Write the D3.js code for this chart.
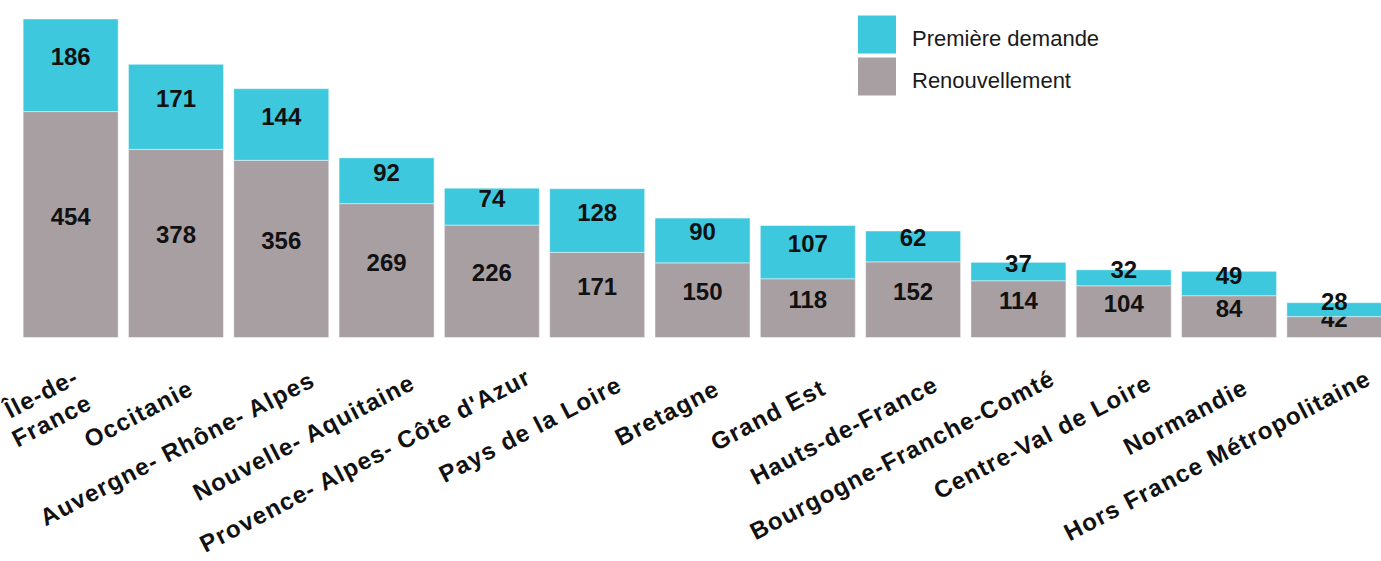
<!DOCTYPE html>
<html>
<head>
<meta charset="utf-8">
<script src="https://cdn.jsdelivr.net/npm/d3@7"></script>
<style>
  body { margin: 0; background: #fff; }
  text { font-family: "Liberation Sans", Arial, sans-serif; }
</style>
</head>
<body>
<script>
// categories (a "\n" splits a label over two lines)
const regions = ["Île-de-\nFrance", "Occitanie", "Auvergne- Rhône- Alpes", "Nouvelle- Aquitaine",
  "Provence- Alpes- Côte d'Azur", "Pays de la Loire", "Bretagne", "Grand Est", "Hauts-de-France",
  "Bourgogne-Franche-Comté", "Centre-Val de Loire", "Normandie", "Hors France Métropolitaine"];
const premiere = [186, 171, 144, 92, 74, 128, 90, 107, 62, 37, 32, 49, 28];
const renouvellement = [454, 378, 356, 269, 226, 171, 150, 118, 152, 114, 104, 84, 42];
const stackKeys = ["Renouvellement", "Première demande"];
const legendKeys = ["Première demande", "Renouvellement"];
const colors = {"Première demande": "#3ec8de", "Renouvellement": "#a89fa3"};

const width = 1381, height = 561;

const svg = d3.select("body").append("svg")
  .attr("width", width)
  .attr("height", height);

const rows = regions.map((r, i) => ({
  region: r,
  "Renouvellement": renouvellement[i],
  "Première demande": premiere[i]
}));
const layers = d3.stack().keys(stackKeys)(rows);

const x = d3.scaleBand()
  .domain(regions)
  .range([18, 1387])
  .paddingInner(0.098)
  .paddingOuter(0.049);

const y = d3.scaleLinear()
  .domain([0, d3.max(rows, d => d["Renouvellement"] + d["Première demande"])])
  .range([337.5, 19]);

// bars
const layer = svg.selectAll(".layer")
  .data(layers)
  .enter().append("g")
  .attr("class", "layer")
  .attr("fill", d => colors[d.key]);

layer.selectAll("rect")
  .data(d => d)
  .enter().append("rect")
  .attr("x", d => x(d.data.region))
  .attr("y", d => y(d[1]))
  .attr("width", x.bandwidth())
  .attr("height", d => y(d[0]) - y(d[1]))
  .attr("stroke", "rgba(255,255,255,0.45)")
  .attr("stroke-width", 1);

// values, baseline at the middle of each segment
layer.selectAll("text")
  .data(d => d.map(p => ({p: p, v: p[1] - p[0]})))
  .enter().append("text")
  .attr("x", d => x(d.p.data.region) + x.bandwidth() / 2)
  .attr("y", d => (y(d.p[0]) + y(d.p[1])) / 2)
  .attr("text-anchor", "middle")
  .attr("fill", "#111")
  .style("font-size", "24px")
  .style("font-weight", "bold")
  .text(d => d.v);

// x axis, rotated labels
const xAxis = svg.append("g")
  .call(d3.axisBottom(x).tickSize(0).tickFormat(""));
xAxis.select(".domain").remove();
xAxis.selectAll(".tick text").remove();

xAxis.selectAll(".tick").each(function(d) {
  const lines = d.split("\n");
  const t = d3.select(this).append("text")
    .attr("transform", "translate(9,399) rotate(-27.5)")
    .attr("text-anchor", "end")
    .attr("fill", "#111")
    .style("font-size", "24px")
    .style("font-weight", "bold")
    .style("letter-spacing", "1.2px");
  const spans = t.selectAll("tspan")
    .data(lines)
    .enter().append("tspan")
    .attr("dy", (l, i) => i == 0 ? (-(lines.length - 1) * 14.5) : 29)
    .text(l => l);
  let maxLen = 0;
  spans.each(function() { maxLen = Math.max(maxLen, this.getComputedTextLength()); });
  spans.attr("x", 0.097 * maxLen);
});

// legend
const legend = svg.selectAll(".legend")
  .data(legendKeys)
  .enter().append("g")
  .attr("class", "legend")
  .attr("transform", (d, i) => "translate(858," + (15.5 + i * 42) + ")");

legend.append("rect")
  .attr("width", 38)
  .attr("height", 38)
  .attr("fill", d => colors[d]);

legend.append("text")
  .attr("x", 54)
  .attr("y", 30)
  .attr("fill", "#1a1a1a")
  .style("font-size", "22px")
  .text(d => d);
</script>
</body>
</html>
